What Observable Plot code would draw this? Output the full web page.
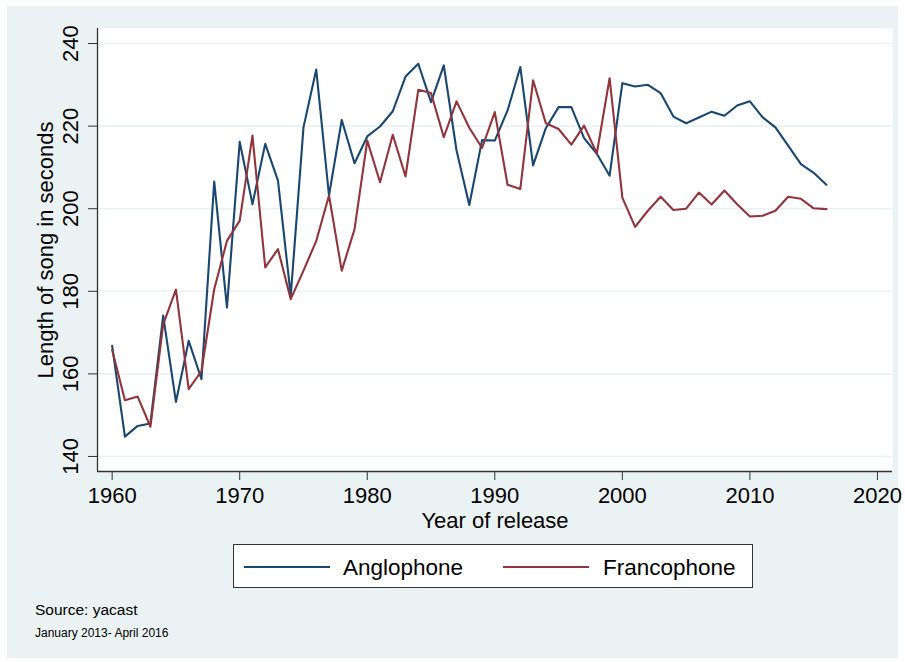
<!DOCTYPE html>
<html>
<head>
<meta charset="utf-8">
<script src="https://cdn.jsdelivr.net/npm/d3@7"></script>
<script src="https://cdn.jsdelivr.net/npm/@observablehq/plot@0.6"></script>
<style>
  html, body { margin: 0; padding: 0; background: #ffffff; }
  #page { position: relative; width: 905px; height: 662px; overflow: hidden;
          font-family: "Liberation Sans", Arial, Helvetica, sans-serif; color: #000; }
  #bg { position: absolute; left: 7px; top: 6px; width: 891px; height: 652px; background: #eaf2f3; }
  #chart { position: absolute; left: 0; top: 0; }
  .abs { position: absolute; white-space: nowrap; line-height: 1; }
  #legend { position: absolute; left: 233px; top: 544px; width: 518px; height: 42px;
            background: #fff; border: 1.5px solid #333; }
  .swatch { position: absolute; height: 2px; }
</style>
</head>
<body>
<div id="page">
  <div id="bg"></div>
  <div id="chart"></div>
  <div id="legend"></div>
  <div class="abs" id="src1" style="left:35px; top:602px; font-size:15.5px;"></div>
  <div class="abs" id="src2" style="left:35px; top:627px; font-size:12px;"></div>
</div>
<script>
// ---- data ----
const years = d3.range(1960, 2017);
const anglophone = [
  166.8, 144.8, 147.4, 148.0, 174.1, 153.2, 168.0, 158.7, 206.6, 176.1,
  216.2, 201.1, 215.7, 206.8, 178.9, 219.7, 233.7, 203.2, 221.5, 211.0,
  217.5, 219.9, 223.6, 232.0, 235.1, 225.8, 234.7, 214.1, 200.9, 216.6,
  216.5, 223.8, 234.3, 210.5, 219.5, 224.6, 224.6, 217.1, 213.3, 208.0,
  230.4, 229.6, 230.0, 228.0, 222.3, 220.7, 222.1, 223.5, 222.5, 225.0,
  226.0, 222.1, 219.7, 215.3, 210.8, 208.7, 205.8
];
const francophone = [
  165.8, 153.6, 154.5, 147.2, 172.0, 180.4, 156.3, 160.7, 180.5, 192.2,
  197.1, 217.7, 185.8, 190.2, 178.1, 185.0, 192.2, 203.2, 185.0, 195.0,
  216.5, 206.4, 217.9, 207.8, 228.8, 228.0, 217.3, 226.0, 219.6, 214.7,
  223.4, 205.8, 204.8, 231.1, 220.7, 219.3, 215.5, 220.1, 213.4, 231.6,
  202.7, 195.6, 199.5, 202.9, 199.7, 200.0, 203.9, 201.0, 204.4, 201.1,
  198.1, 198.3, 199.5, 202.9, 202.4, 200.1, 199.9
];
const seriesNames = ["Anglophone", "Francophone"];
const seriesColors = ["#1a476f", "#90353b"];
const xTicks = [1960, 1970, 1980, 1990, 2000, 2010, 2020];
const yTicks = [140, 160, 180, 200, 220, 240];
const xTitle = "Year of release";
const yTitle = "Length of song in seconds";
const captionLines = ["Source: yacast", "January 2013- April 2016"];

// ---- build table ----
const rows = [];
years.forEach((yr, i) => {
  rows.push({year: yr, value: anglophone[i], series: seriesNames[0]});
});
years.forEach((yr, i) => {
  rows.push({year: yr, value: francophone[i], series: seriesNames[1]});
});

const xDomain = [1958.85, 2021.18];
const yDomain = [136.36, 243.64];
const axisColor = "#333";
const gridColor = "#eaf2f3";
const font = '"Liberation Sans", Arial, Helvetica, sans-serif';

const plot = Plot.plot({
  width: 905,
  height: 540,
  marginLeft: 97,
  marginRight: 13,
  marginTop: 28,
  marginBottom: 69,
  style: {background: "transparent", fontFamily: font, color: "#000", overflow: "visible"},
  x: {domain: xDomain},
  y: {domain: yDomain},
  color: {domain: seriesNames, range: seriesColors},
  marks: [
    Plot.frame({fill: "white", stroke: "none"}),
    Plot.ruleY(yTicks, {stroke: gridColor, strokeWidth: 1.6}),
    Plot.line(rows, {x: "year", y: "value", z: "series", stroke: "series", strokeWidth: 2.1}),
    Plot.ruleX([xDomain[0]], {stroke: axisColor, strokeWidth: 1.3}),
    Plot.ruleY([yDomain[0]], {stroke: axisColor, strokeWidth: 1.3}),
    Plot.axisX({ticks: xTicks, tickSize: 9, fill: "none", stroke: axisColor, label: null, tickFormat: () => ""}),
    Plot.axisY({ticks: yTicks, tickSize: 9, fill: "none", stroke: axisColor, label: null, tickFormat: () => ""}),
    Plot.text(xTicks, {x: d => d, frameAnchor: "bottom", lineAnchor: "top", dy: 16, text: d => String(d), fontSize: 22, fill: "#000"}),
    Plot.text(yTicks, {y: d => d, frameAnchor: "left", dx: -27, rotate: -90, textAnchor: "middle", text: d => String(d), fontSize: 22, fill: "#000"}),
    Plot.text([xTitle], {frameAnchor: "bottom", lineAnchor: "bottom", dy: 56, text: d => d, fontSize: 22, fill: "#000"}),
    Plot.text([yTitle], {frameAnchor: "left", dx: -52, rotate: -90, textAnchor: "middle", text: d => d, fontSize: 22, fill: "#000"})
  ]
});
document.getElementById("chart").appendChild(plot);

// ---- legend ----
const legend = document.getElementById("legend");
const legendItems = [
  {lineLeft: 10, textLeft: 109},
  {lineLeft: 269, textLeft: 369}
];
seriesNames.forEach((name, i) => {
  const sw = document.createElement("div");
  sw.className = "swatch";
  sw.style.left = legendItems[i].lineLeft + "px";
  sw.style.top = "21px";
  sw.style.width = "86px";
  sw.style.background = seriesColors[i];
  legend.appendChild(sw);
  const t = document.createElement("div");
  t.className = "abs";
  t.style.left = legendItems[i].textLeft + "px";
  t.style.top = "12px";
  t.style.fontSize = "22.5px";
  t.textContent = name;
  legend.appendChild(t);
});
document.getElementById("src1").textContent = captionLines[0];
document.getElementById("src2").textContent = captionLines[1];
</script>
</body>
</html>
